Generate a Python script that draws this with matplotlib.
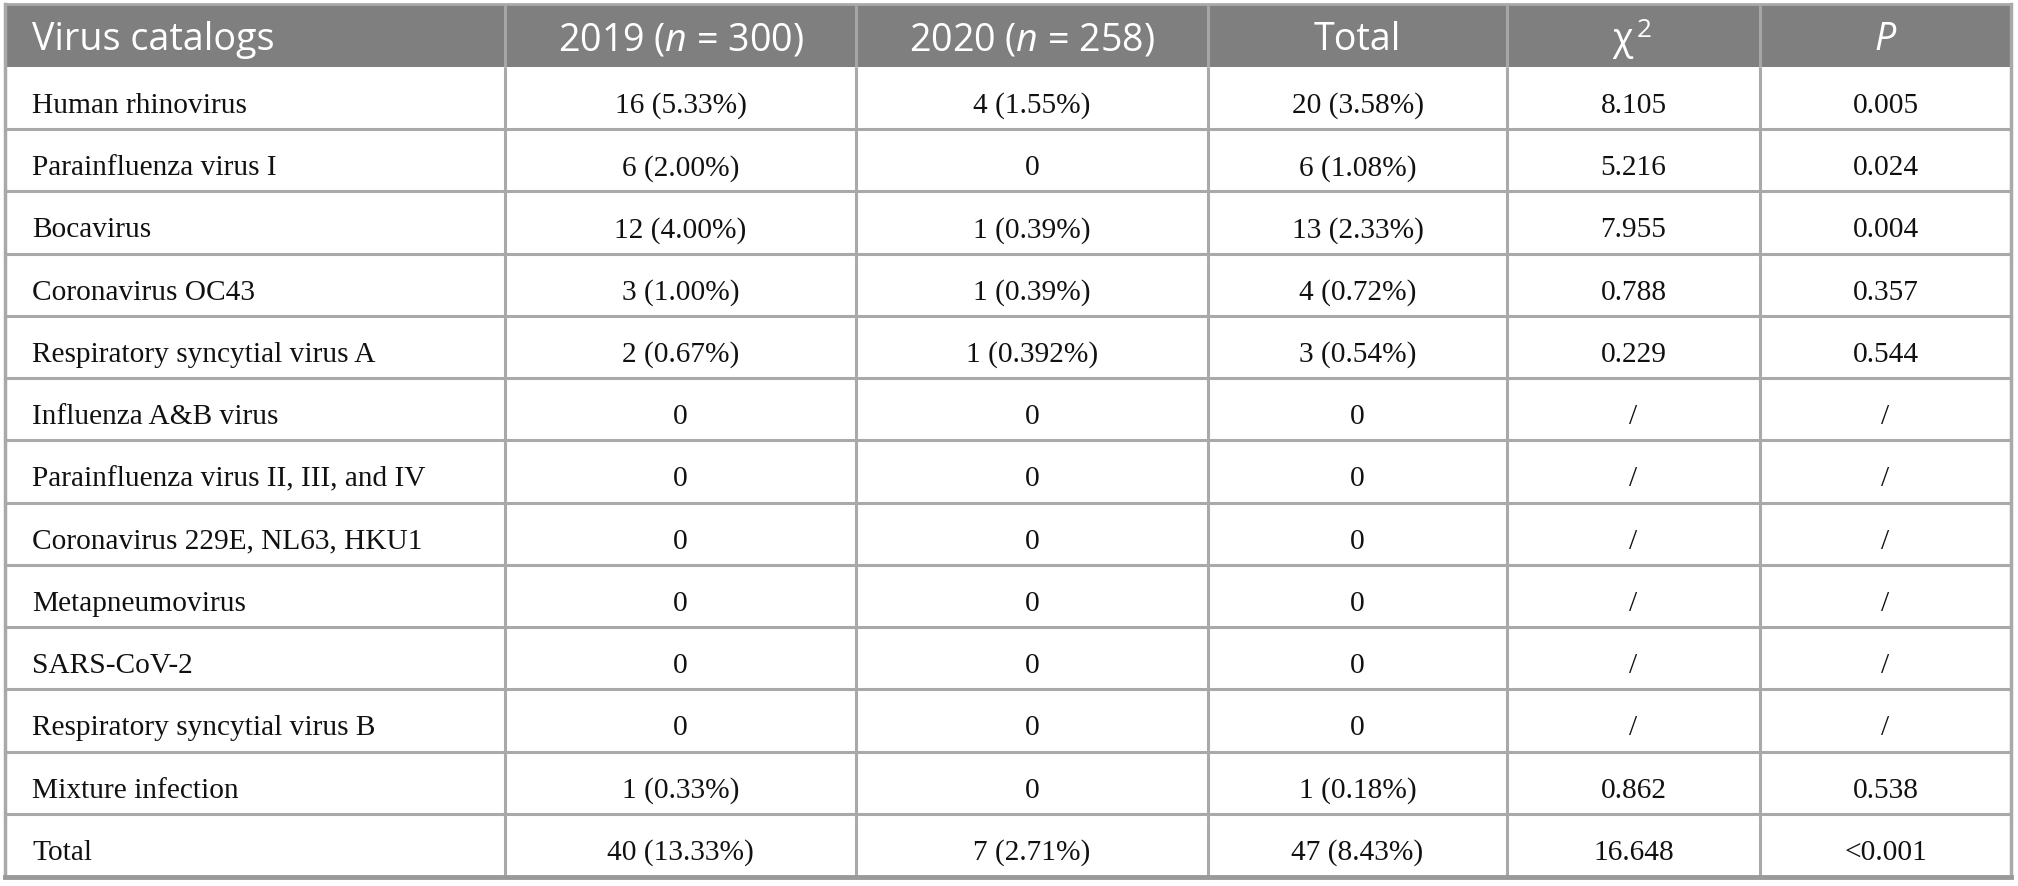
import matplotlib
matplotlib.use("Agg")
import matplotlib.pyplot as plt
from matplotlib.font_manager import FontProperties
from matplotlib.textpath import TextPath

# ---------------- data ----------------
columns = ["Virus catalogs", "2019 (n = 300)", "2020 (n = 258)", "Total", "χ2", "P"]
viruses = ["Human rhinovirus", "Parainfluenza virus I", "Bocavirus", "Coronavirus OC43",
           "Respiratory syncytial virus A", "Influenza A&B virus",
           "Parainfluenza virus II, III, and IV", "Coronavirus 229E, NL63, HKU1",
           "Metapneumovirus", "SARS-CoV-2", "Respiratory syncytial virus B",
           "Mixture infection", "Total"]
y2019 = ["16 (5.33%)", "6 (2.00%)", "12 (4.00%)", "3 (1.00%)", "2 (0.67%)", "0", "0", "0",
         "0", "0", "0", "1 (0.33%)", "40 (13.33%)"]
y2020 = ["4 (1.55%)", "0", "1 (0.39%)", "1 (0.39%)", "1 (0.392%)", "0", "0", "0",
         "0", "0", "0", "0", "7 (2.71%)"]
total = ["20 (3.58%)", "6 (1.08%)", "13 (2.33%)", "4 (0.72%)", "3 (0.54%)", "0", "0", "0",
         "0", "0", "0", "1 (0.18%)", "47 (8.43%)"]
chi2 = ["8.105", "5.216", "7.955", "0.788", "0.229", "/", "/", "/", "/", "/", "/",
        "0.862", "16.648"]
pval = ["0.005", "0.024", "0.004", "0.357", "0.544", "/", "/", "/", "/", "/", "/",
        "0.538", "<0.001"]

# ---------------- layout (pixels) ----------------
W, H = 2018, 887
col_edges = [5, 505, 856, 1208, 1507, 1760, 2011]
header_top, header_bot = 6, 68
n_rows = len(viruses)
row_h = (877 - header_bot) / n_rows
row_edges = [header_bot + i * row_h for i in range(n_rows + 1)]

header_bg = "#7f7f7f"
grid_col = "#a9a9a9"
head_sep = "#a6a6a6"

serif = FontProperties(family="Liberation Serif")
sans = FontProperties(family="Open Sans")


def text_w(text, prop):
    return TextPath((0, 0), text, size=10, prop=prop).get_extents().width


def fit_size(pairs, prop):
    tw = sum(t for _, t in pairs)
    mw = sum(text_w(s, prop) for s, _ in pairs)
    return tw * 72 / 100 * 10 / mw


body_fs = fit_size([("Human rhinovirus", 220), ("Parainfluenza virus II, III, and IV", 386)], serif)
head_fs = fit_size([("Virus catalogs", 240)], sans)

plt.rcParams["mathtext.fontset"] = "custom"
plt.rcParams["mathtext.rm"] = "Open Sans"
plt.rcParams["mathtext.it"] = "Open Sans:italic"

fig = plt.figure(figsize=(W / 100, H / 100), dpi=100)
ax = fig.add_axes([0, 0, 1, 1])
ax.set_xlim(0, W)
ax.set_ylim(H, 0)
ax.axis("off")

# header background
ax.fill_between([col_edges[0], col_edges[-1]], header_top, header_bot, color=header_bg, lw=0)

# horizontal grid lines
for y in row_edges[1:-1]:
    ax.plot([col_edges[0], col_edges[-1]], [y, y], color=grid_col, lw=2.2, solid_capstyle="butt")
# vertical grid lines
for x in col_edges[1:-1]:
    ax.plot([x, x], [header_top, header_bot], color=head_sep, lw=2.2, solid_capstyle="butt")
    ax.plot([x, x], [header_bot, row_edges[-1]], color=grid_col, lw=2.2, solid_capstyle="butt")
# outer border
ax.plot([col_edges[0], col_edges[0]], [header_top - 1, row_edges[-1]], color=grid_col, lw=2.5)
ax.plot([col_edges[-1], col_edges[-1]], [header_top - 1, row_edges[-1]], color=grid_col, lw=2.5)
ax.plot([col_edges[0], col_edges[-1]], [header_top - 1, header_top - 1], color=grid_col, lw=2.0)
ax.plot([col_edges[0], col_edges[-1]], [row_edges[-1] + 1, row_edges[-1] + 1], color="#999999", lw=3.5)

# header text
hb = header_top + 44
head_labels = ["Virus catalogs", r"2019 ($\it{n}$ = 300)", r"2020 ($\it{n}$ = 258)", "Total"]
for j, lab in enumerate(head_labels):
    if j == 0:
        ax.text(32, hb, lab, color="white", fontsize=head_fs, family="Open Sans", va="baseline", ha="left")
    else:
        cx = (col_edges[j] + col_edges[j + 1]) / 2
        ax.text(cx, hb, lab, color="white", fontsize=head_fs, family="Open Sans", va="baseline", ha="center")
cx = (col_edges[4] + col_edges[5]) / 2
ax.text(cx - 11, hb, "χ", color="white", fontsize=head_fs, family="Open Sans", va="baseline", ha="center")
ax.text(cx + 3, hb - 13, "2", color="white", fontsize=head_fs * 0.7, family="Open Sans", va="baseline", ha="left")
cx = (col_edges[5] + col_edges[6]) / 2
ax.text(cx, hb, "P", color="white", fontsize=head_fs, family="Open Sans", style="italic", va="baseline", ha="center")

# body text
cols_data = [y2019, y2020, total, chi2, pval]
for i in range(n_rows):
    base = row_edges[i] + 45
    ax.text(32, base, viruses[i], fontsize=body_fs, family="Liberation Serif", color="#111111",
            va="baseline", ha="left")
    for j, vals in enumerate(cols_data):
        cx = (col_edges[j + 1] + col_edges[j + 2]) / 2
        ax.text(cx, base, vals[i], fontsize=body_fs, family="Liberation Serif", color="#111111",
                va="baseline", ha="center")

fig.savefig("out.png", dpi=100, facecolor="white")
